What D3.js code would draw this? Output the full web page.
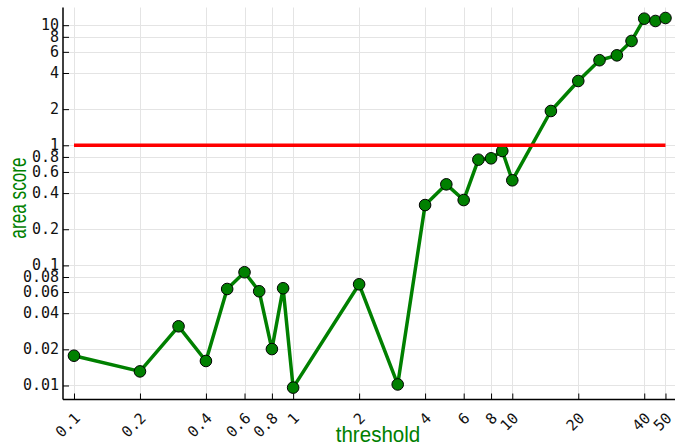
<!DOCTYPE html>
<html>
<head>
<meta charset="utf-8">
<script src="https://cdn.jsdelivr.net/npm/d3@7/dist/d3.min.js"></script>
<style>
  html, body { margin: 0; padding: 0; background: #ffffff; }
  svg { display: block; }
</style>
</head>
<body>
<svg id="chart" width="685" height="446"></svg>
<script>
// threshold sweep: area score per threshold
const thresholds = [0.1, 0.2, 0.3, 0.4, 0.5, 0.6, 0.7, 0.8, 0.9, 1,
                    2, 3, 4, 5, 6, 7, 8, 9, 10,
                    15, 20, 25, 30, 35, 40, 45, 50];
const areaScores = [0.0177, 0.0131, 0.0311, 0.0160, 0.0636, 0.0877, 0.0609, 0.0201, 0.0645, 0.0096,
                    0.0696, 0.0102, 0.318, 0.473, 0.350, 0.759, 0.779, 0.897, 0.511,
                    1.93, 3.43, 5.11, 5.61, 7.39, 11.33, 10.84, 11.48];
const referenceLevel = 1;

const xTicks = [0.1, 0.2, 0.4, 0.6, 0.8, 1, 2, 4, 6, 8, 10, 20, 40, 50];
const xTickLabels = ["0.1", "0.2", "0.4", "0.6", "0.8", "1", "2", "4", "6", "8", "10", "20", "40", "50"];
const yTicks = [0.01, 0.02, 0.04, 0.06, 0.08, 0.1, 0.2, 0.4, 0.6, 0.8, 1, 2, 4, 6, 8, 10];
const yTickLabels = ["0.01", "0.02", "0.04", "0.06", "0.08", "0.1", "0.2", "0.4", "0.6", "0.8", "1", "2", "4", "6", "8", "10"];

const xDomain = [0.0891, 55.26];
const yDomain = [0.007644, 14.04];

const plot = { left: 63, right: 675, top: 7.5, bottom: 399.5 };
const green = "#008000";
const tickFont = "'DejaVu Sans Mono', monospace";
const titleFont = "'Liberation Sans', Arial, sans-serif";

const svg = d3.select("#chart");

const x = d3.scaleLog().domain(xDomain).range([plot.left, plot.right]);
const y = d3.scaleLog().domain(yDomain).range([plot.bottom, plot.top]);

// grid
const grid = svg.append("g").attr("stroke", "#e4e4e4").attr("stroke-width", 1);
grid.selectAll("line.gx").data(xTicks).join("line")
  .attr("class", "gx")
  .attr("x1", d => Math.round(x(d)) + 0.5).attr("x2", d => Math.round(x(d)) + 0.5)
  .attr("y1", plot.top).attr("y2", plot.bottom);
grid.selectAll("line.gy").data(yTicks).join("line")
  .attr("class", "gy")
  .attr("y1", d => Math.round(y(d)) + 0.5).attr("y2", d => Math.round(y(d)) + 0.5)
  .attr("x1", plot.left).attr("x2", plot.right);

// axes (ticks point into the plot)
const xAxis = d3.axisBottom(x).tickValues(xTicks).tickSize(-6).tickFormat("");
const yAxis = d3.axisLeft(y).tickValues(yTicks).tickSize(-6).tickFormat("");

const gx = svg.append("g").attr("transform", `translate(0,${plot.bottom})`).call(xAxis);
const gy = svg.append("g").attr("transform", `translate(${plot.left},0)`).call(yAxis);
[gx, gy].forEach(g => {
  g.select(".domain").attr("stroke", "#000").attr("stroke-width", 1.5);
  g.selectAll(".tick line").attr("stroke", "#000").attr("stroke-width", 1);
});
gx.select(".domain").attr("d", `M${plot.left},0H${plot.right}`);
gy.select(".domain").attr("d", `M0,${plot.bottom}V${plot.top}`);

// tick labels
svg.append("g").selectAll("text").data(xTicks).join("text")
  .attr("transform", d => `translate(${x(d) + 3.5},${plot.bottom + 16}) rotate(-45)`)
  .attr("text-anchor", "end")
  .attr("dominant-baseline", "central")
  .attr("font-family", tickFont)
  .attr("font-size", 15)
  .attr("fill", "#111")
  .text((d, i) => xTickLabels[i]);

svg.append("g").selectAll("text").data(yTicks).join("text")
  .attr("x", plot.left - 4)
  .attr("y", d => y(d))
  .attr("text-anchor", "end")
  .attr("dominant-baseline", "central")
  .attr("font-family", tickFont)
  .attr("font-size", 15)
  .attr("fill", "#111")
  .text((d, i) => yTickLabels[i]);

// axis titles
svg.append("text")
  .attr("transform", "translate(378,441.5) scale(0.98,1.05)")
  .attr("text-anchor", "middle")
  .attr("font-family", titleFont)
  .attr("font-size", 21)
  .attr("fill", green)
  .text("threshold");

svg.append("text")
  .attr("transform", "translate(26,198) rotate(-90) scale(0.82,1.1)")
  .attr("text-anchor", "middle")
  .attr("font-family", titleFont)
  .attr("font-size", 21)
  .attr("fill", green)
  .text("area score");

// series
const pts = thresholds.map((t, i) => [t, areaScores[i]]);
const line = d3.line().x(d => x(d[0])).y(d => y(d[1]));

svg.append("path")
  .datum(pts)
  .attr("d", line)
  .attr("fill", "none")
  .attr("stroke", green)
  .attr("stroke-width", 3.5)
  .attr("stroke-linejoin", "round");

svg.append("g").selectAll("circle").data(pts).join("circle")
  .attr("cx", d => x(d[0]))
  .attr("cy", d => y(d[1]))
  .attr("r", 5.8)
  .attr("fill", green)
  .attr("stroke", "#000")
  .attr("stroke-width", 1);

// reference level
svg.append("line")
  .attr("x1", x(d3.min(thresholds))).attr("x2", x(d3.max(thresholds)))
  .attr("y1", y(referenceLevel)).attr("y2", y(referenceLevel))
  .attr("stroke", "#ff0000")
  .attr("stroke-width", 3.5);
</script>
</body>
</html>
